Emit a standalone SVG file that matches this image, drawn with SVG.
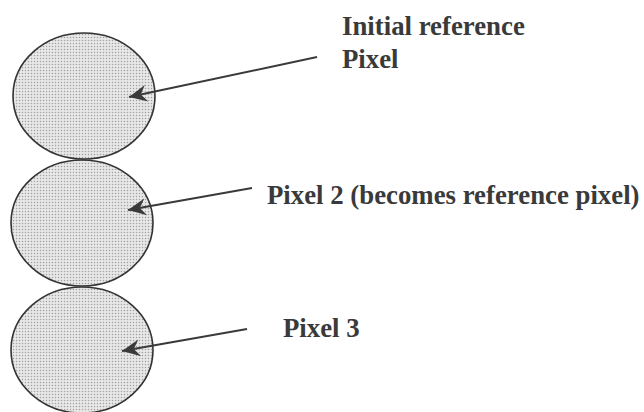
<svg xmlns="http://www.w3.org/2000/svg" width="644" height="412" viewBox="0 0 644 412">
<style>
.px{stroke:#333;stroke-width:1.6;fill:url(#dots)}
.lbl{font-family:"Liberation Serif","Times New Roman",serif;font-weight:bold;font-size:26.8px;fill:#3a3a3a}
.arr{stroke:#3a3a3a;stroke-width:2;fill:none;marker-end:url(#ah)}
</style>
<defs>
<pattern id="dots" width="3" height="3" patternUnits="userSpaceOnUse">
<rect width="3" height="3" fill="#e8e8e8"/>
<circle cx="1.5" cy="1.5" r="0.75" fill="#a0a0a0"/>
</pattern>
<marker id="ah" markerUnits="userSpaceOnUse" markerWidth="22" markerHeight="20" refX="0" refY="0" viewBox="-20 -10 22 20" orient="auto">
<path d="M0,0 L-18,-8.5 L-12,0 L-18,8.5 Z" fill="#3a3a3a"/>
</marker>
</defs>
<g id="pixel1"><ellipse class="px" cx="84" cy="96" rx="71" ry="63"/></g>
<g id="pixel2"><ellipse class="px" cx="82" cy="223" rx="71" ry="63"/></g>
<g id="pixel3"><ellipse class="px" cx="82" cy="350" rx="71" ry="63"/></g>
<g id="connectors">
<line class="arr" x1="317" y1="57" x2="129" y2="97"/>
<line class="arr" x1="252" y1="188" x2="128" y2="210"/>
<line class="arr" x1="247" y1="329" x2="122" y2="351"/>
</g>
<g id="labels">
<text class="lbl" x="342" y="35">Initial reference</text>
<text class="lbl" x="342" y="68">Pixel</text>
<text class="lbl" x="267" y="204">Pixel 2 (becomes reference pixel)</text>
<text class="lbl" x="283" y="337">Pixel 3</text>
</g>
</svg>
